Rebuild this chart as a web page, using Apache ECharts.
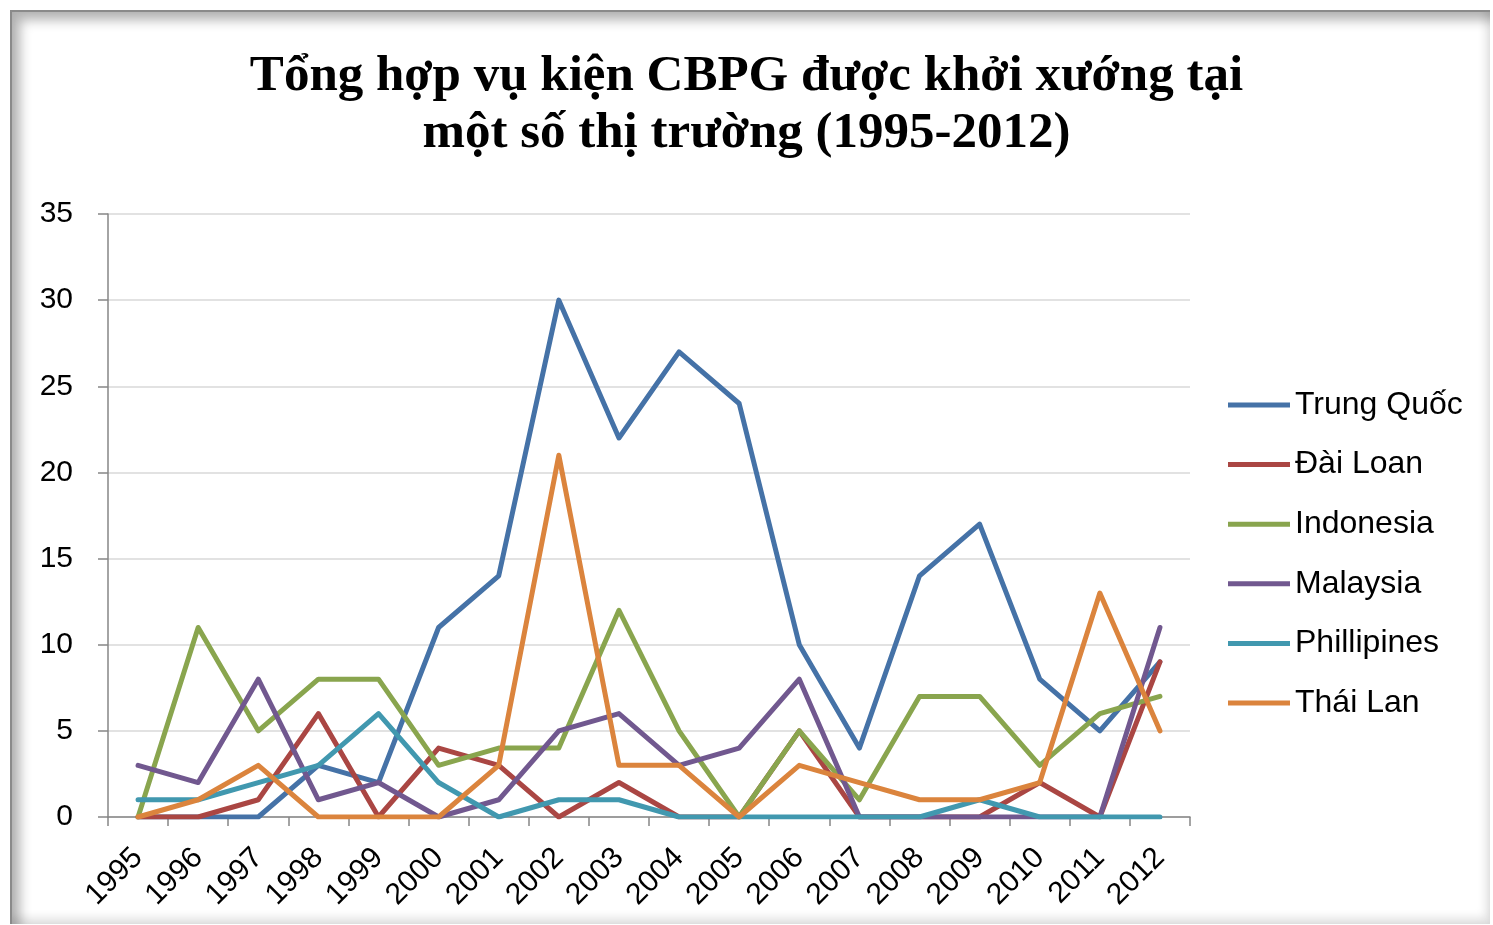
<!DOCTYPE html>
<html>
<head>
<meta charset="utf-8">
<script src="https://cdn.jsdelivr.net/npm/echarts@6/dist/echarts.min.js"></script>
<style>
    html, body { margin: 0; padding: 0; background: #fff; }
    #frame {
        position: absolute; left: 10px; top: 10px; width: 1478px; height: 912px;
        border-top: 2px solid #8a8a8a; border-left: 2px solid #8a8a8a;
        box-shadow: inset 8px 8px 12px rgba(0,0,0,0.30), inset -4px -6px 10px rgba(0,0,0,0.12);
    }
    #chart { position: absolute; left: 0; top: 0; width: 1493px; height: 925px; }
</style>
</head>
<body>
<div id="frame"></div>
<div id="chart"></div>
<script>
var years = ['1995', '1996', '1997', '1998', '1999', '2000', '2001', '2002', '2003',
    '2004', '2005', '2006', '2007', '2008', '2009', '2010', '2011', '2012'];
var trungQuoc   = [0, 0, 0, 3, 2, 11, 14, 30, 22, 27, 24, 10, 4, 14, 17, 8, 5, 9];
var daiLoan     = [0, 0, 1, 6, 0, 4, 3, 0, 2, 0, 0, 5, 0, 0, 0, 2, 0, 9];
var indonesia   = [0, 11, 5, 8, 8, 3, 4, 4, 12, 5, 0, 5, 1, 7, 7, 3, 6, 7];
var malaysia    = [3, 2, 8, 1, 2, 0, 1, 5, 6, 3, 4, 8, 0, 0, 0, 0, 0, 11];
var phillipines = [1, 1, 2, 3, 6, 2, 0, 1, 1, 0, 0, 0, 0, 0, 1, 0, 0, 0];
var thaiLan     = [0, 1, 3, 0, 0, 0, 3, 21, 3, 3, 0, 3, 2, 1, 1, 2, 13, 5];
var yTicks = [0, 5, 10, 15, 20, 25, 30, 35];

var names = ['Trung Quốc', 'Đài Loan', 'Indonesia', 'Malaysia', 'Phillipines', 'Thái Lan'];
var colors = ['#4572A7', '#AA4643', '#89A54E', '#71588F', '#4198AF', '#DB843D'];
var values = [trungQuoc, daiLoan, indonesia, malaysia, phillipines, thaiLan];

// mỗi thị trường một đường
var series = [];
for (var k = 0; k < names.length; k++) {
    series.push({
        name: names[k],
        type: 'line',
        data: values[k],
        showSymbol: false,
        symbol: 'none',
        lineStyle: { width: 5, color: colors[k], cap: 'round', join: 'round' },
        itemStyle: { color: colors[k] },
        emphasis: { disabled: true }
    });
}

var options = {
    backgroundColor: 'transparent',
    animation: false,
    color: colors,
    title: {
        text: 'Tổng hợp vụ kiện CBPG được khởi xướng tại\nmột số thị trường (1995-2012)',
        left: 'center',
        top: 43,
        textStyle: {
            fontFamily: 'Liberation Serif',
            fontWeight: 'bold',
            fontSize: 51,
            lineHeight: 57,
            color: '#000'
        }
    },
    legend: {
        orient: 'vertical',
        left: 1223,
        top: 384,
        itemWidth: 62,
        itemHeight: 5,
        itemGap: 27.6,
        icon: 'rect',
        data: names,
        textStyle: {
            fontFamily: 'Liberation Sans',
            fontSize: 32,
            lineHeight: 31,
            color: '#000'
        }
    },
    grid: {
        left: 108,
        right: 303,
        top: 214,
        bottom: 108
    },
    xAxis: {
        type: 'category',
        data: years,
        boundaryGap: true,
        axisLine: { lineStyle: { color: '#868686', width: 1.5 } },
        axisTick: { show: true, length: 9, lineStyle: { color: '#868686', width: 1.5 } },
        axisLabel: {
            interval: 0,
            rotate: 45,
            margin: 36,
            fontFamily: 'Liberation Sans',
            fontSize: 30,
            color: '#000'
        },
        splitLine: { show: false }
    },
    yAxis: {
        type: 'value',
        min: yTicks[0],
        max: yTicks[yTicks.length - 1],
        interval: 5,
        axisLine: { show: true, lineStyle: { color: '#868686', width: 1.5 } },
        axisTick: { show: true, length: 10, lineStyle: { color: '#868686', width: 1.5 } },
        axisLabel: {
            margin: 35,
            fontFamily: 'Liberation Sans',
            fontSize: 30,
            color: '#000'
        },
        splitLine: { lineStyle: { color: '#D9D9D9', width: 1.5 } }
    },
    series: series
};

var chart = echarts.init(document.getElementById('chart'));
chart.setOption(options);
</script>
</body>
</html>
